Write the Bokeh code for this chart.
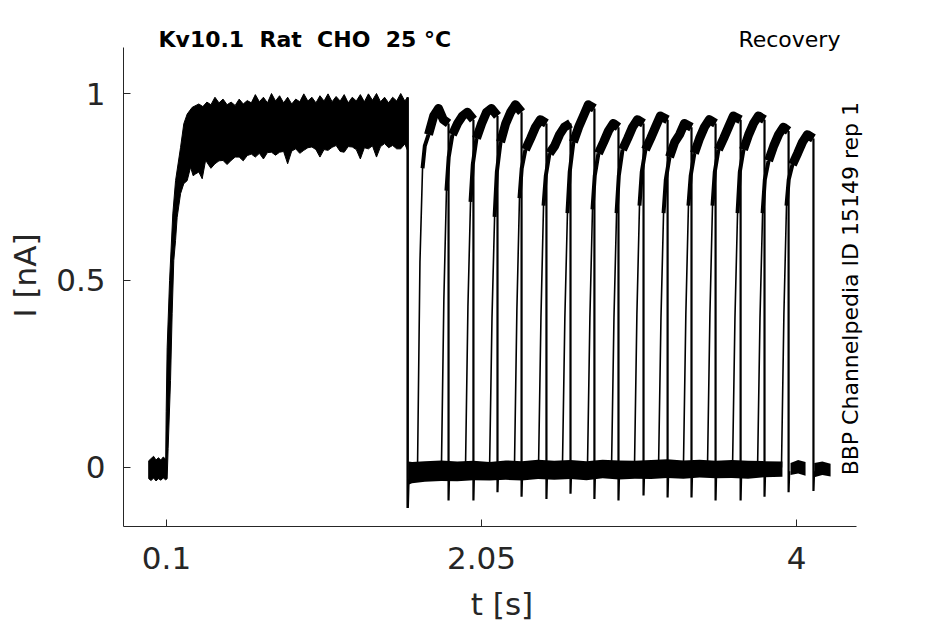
import math
from bokeh.plotting import figure
from bokeh.models import Label, FixedTicker, Range1d, CustomJSTickFormatter
from bokeh.embed import file_html
from bokeh.resources import INLINE

# ---------------- data ----------------
x_ticks = [0.1, 2.05, 4]
y_ticks = [0, 0.5, 1]

# first (conditioning) pulse, drawn as the envelope of the overlaid sweeps
p1_top_t = [-0.010, 0.005, 0.020, 0.035, 0.050, 0.065, 0.080, 0.095,
            0.098, 0.104, 0.119, 0.139, 0.156, 0.187, 0.207, 0.228, 0.259,
            0.300, 0.325, 0.350, 0.375, 0.400, 0.425, 0.450, 0.475, 0.500, 0.525,
            0.550, 0.575, 0.600, 0.625, 0.650, 0.675, 0.700, 0.725, 0.750, 0.775,
            0.800, 0.825, 0.850, 0.875, 0.900, 0.925, 0.950, 0.975, 1.000, 1.025,
            1.050, 1.075, 1.100, 1.125, 1.150, 1.175, 1.200, 1.225, 1.250, 1.275,
            1.300, 1.325, 1.350, 1.375, 1.400, 1.425, 1.450, 1.475, 1.500, 1.525,
            1.550, 1.575, 1.592]
p1_top_i = [0.018, 0.024, 0.030, 0.020, 0.026, 0.020, 0.028, 0.022,
            0.150, 0.320, 0.500, 0.678, 0.767, 0.856, 0.919, 0.945, 0.963,
            0.972, 0.965, 0.977, 0.970, 0.990, 0.975, 0.985, 0.970, 0.977, 0.968,
            0.985, 0.972, 0.981, 0.975, 0.997, 0.978, 0.990, 0.975, 1.000, 0.980,
            0.994, 0.975, 0.990, 0.972, 0.985, 0.978, 0.999, 0.980, 0.990, 0.975,
            0.994, 0.980, 0.999, 0.978, 0.992, 0.980, 0.997, 0.975, 0.990, 0.980,
            0.997, 0.978, 0.999, 0.982, 1.000, 0.978, 0.990, 0.975, 0.990, 0.980,
            1.000, 0.980, 0.990]
p1_bot_t = [-0.010, 0.005, 0.020, 0.035, 0.050, 0.065, 0.080, 0.095, 0.104,
            0.110, 0.125, 0.135, 0.145, 0.156, 0.166, 0.187, 0.207, 0.228, 0.249,
            0.265, 0.280, 0.300, 0.321, 0.342,
            0.350, 0.375, 0.400, 0.425, 0.450, 0.475, 0.500, 0.525,
            0.550, 0.575, 0.600, 0.625, 0.650, 0.675, 0.700, 0.725, 0.750, 0.775,
            0.800, 0.825, 0.850, 0.875, 0.900, 0.925, 0.950, 0.975, 1.000, 1.025,
            1.050, 1.075, 1.100, 1.125, 1.150, 1.175, 1.200, 1.225, 1.250, 1.275,
            1.300, 1.325, 1.350, 1.375, 1.400, 1.425, 1.450, 1.475, 1.500, 1.525,
            1.550, 1.575, 1.592]
p1_bot_i = [-0.030, -0.035, -0.028, -0.036, -0.030, -0.034, -0.028, -0.033, -0.030,
            0.050, 0.233, 0.411, 0.553, 0.607, 0.669, 0.732, 0.759, 0.767, 0.803,
            0.780, 0.785, 0.790, 0.772, 0.821,
            0.816, 0.800, 0.812, 0.820, 0.821, 0.810, 0.821, 0.830,
            0.830, 0.820, 0.834, 0.838, 0.830, 0.840, 0.825, 0.842, 0.843, 0.835,
            0.843, 0.845, 0.812, 0.846, 0.852, 0.840, 0.848, 0.855, 0.857, 0.850,
            0.830, 0.850, 0.848, 0.856, 0.861, 0.845, 0.843, 0.858, 0.857, 0.850,
            0.825, 0.855, 0.852, 0.860, 0.830, 0.858, 0.866, 0.855, 0.861, 0.852,
            0.852, 0.865, 0.848]
drop_t = [1.593, 1.593, 1.598]
drop_i = [0.990, -0.108, -0.030]

# baseline between pulses (overlaid sweeps)
bl_t = [1.597, 1.620, 1.700, 1.800, 1.900, 2.000, 2.100, 2.200, 2.300, 2.400,
        2.500, 2.600, 2.700, 2.800, 2.900, 3.000, 3.100, 3.200, 3.300, 3.400,
        3.500, 3.600, 3.700, 3.800, 3.913]
bl_hi = [0.016, 0.015, 0.017, 0.019, 0.016, 0.018, 0.015, 0.019, 0.017, 0.021,
         0.018, 0.020, 0.017, 0.021, 0.019, 0.018, 0.020, 0.022, 0.019, 0.021,
         0.018, 0.020, 0.018, 0.017, 0.016]
bl_lo = [-0.046, -0.042, -0.038, -0.036, -0.037, -0.034, -0.035, -0.033, -0.035, -0.031,
         -0.033, -0.031, -0.034, -0.029, -0.032, -0.030, -0.031, -0.028, -0.030, -0.027,
         -0.029, -0.028, -0.030, -0.026, -0.025]
tail1_t = [3.963, 4.010, 4.056]
tail1_hi = [0.012, 0.020, 0.015]
tail1_lo = [-0.020, -0.016, -0.022]
tail2_t = [4.110, 4.160, 4.211]
tail2_hi = [0.012, 0.016, 0.010]
tail2_lo = [-0.026, -0.020, -0.024]

# test pulses of the 16 sweeps
rise_t = [1.654, 1.802, 1.951, 2.100, 2.254, 2.403, 2.551, 2.706,
          2.855, 2.997, 3.146, 3.300, 3.449, 3.604, 3.759, 3.907]
end_t = [1.846, 2.000, 2.149, 2.298, 2.452, 2.601, 2.749, 2.898,
         3.053, 3.202, 3.350, 3.499, 3.654, 3.802, 3.951, 4.105]
pulse_offsets = [0.0, 0.015, 0.031, 0.045, 0.068, 0.100, 0.130, 0.160]
sweep_i = [
    [0, 0.55, 0.80, 0.86, 0.89, 0.94, 0.96, 0.93, 0.92],
    [0, 0.45, 0.74, 0.83, 0.89, 0.92, 0.94, 0.95, 0.93],
    [0, 0.43, 0.71, 0.81, 0.88, 0.92, 0.95, 0.96, 0.94],
    [0, 0.40, 0.67, 0.79, 0.87, 0.92, 0.95, 0.97, 0.95],
    [0, 0.42, 0.72, 0.80, 0.85, 0.88, 0.91, 0.93, 0.92],
    [0, 0.40, 0.70, 0.78, 0.84, 0.86, 0.89, 0.91, 0.92],
    [0, 0.40, 0.68, 0.79, 0.87, 0.91, 0.94, 0.97, 0.96],
    [0, 0.40, 0.69, 0.78, 0.84, 0.87, 0.90, 0.92, 0.91],
    [0, 0.40, 0.68, 0.78, 0.85, 0.88, 0.91, 0.93, 0.92],
    [0, 0.41, 0.70, 0.79, 0.85, 0.88, 0.91, 0.94, 0.93],
    [0, 0.40, 0.68, 0.77, 0.83, 0.87, 0.89, 0.92, 0.91],
    [0, 0.41, 0.70, 0.78, 0.84, 0.88, 0.91, 0.93, 0.92],
    [0, 0.41, 0.70, 0.79, 0.85, 0.88, 0.91, 0.94, 0.93],
    [0, 0.40, 0.68, 0.79, 0.85, 0.89, 0.92, 0.94, 0.93],
    [0, 0.40, 0.68, 0.77, 0.82, 0.86, 0.89, 0.91, 0.90],
    [0, 0.41, 0.70, 0.77, 0.81, 0.84, 0.87, 0.89, 0.88],
]
spike_i = [-0.088, -0.088, -0.066, -0.078, -0.084, -0.070, -0.084, -0.088,
           -0.075, -0.080, -0.080, -0.088, -0.088, -0.078, -0.066, -0.063]
after_spike_i = -0.010

# axis extents (axes are shorter than the frame so that the texts can sit inside it)
x_axis_span = (-0.166, 4.372)
y_axis_span = (-0.158, 1.123)

# ---------------- figure ----------------
FONT = "DejaVu Sans"
GREY = "#262626"

p = figure(width=940, height=624, output_backend="svg", toolbar_location=None,
           x_range=Range1d(-0.1662, 4.520), y_range=Range1d(-0.1578, 1.1845),
           min_border_left=123, min_border_right=60, min_border_top=24,
           min_border_bottom=98)
p.outline_line_color = None
p.xgrid.visible = False
p.ygrid.visible = False
p.background_fill_color = "white"
p.border_fill_color = "white"

fmt = CustomJSTickFormatter(code="return tick.toString();")
for ax, ticks, span in ((p.xaxis, x_ticks, x_axis_span), (p.yaxis, y_ticks, y_axis_span)):
    ax.ticker = FixedTicker(ticks=ticks)
    ax.formatter = fmt
    ax.bounds = span
    ax.axis_line_color = GREY
    ax.axis_line_width = 1
    ax.major_tick_line_color = GREY
    ax.major_tick_in = 7
    ax.major_tick_out = 0
    ax.minor_tick_line_color = None
    ax.major_label_text_font = FONT
    ax.major_label_text_font_size = "31px"
    ax.major_label_text_color = GREY
    ax.major_label_standoff = 18
    ax.axis_label_text_font = FONT
    ax.axis_label_text_font_size = "31px"
    ax.axis_label_text_font_style = "normal"
    ax.axis_label_text_color = GREY

p.yaxis.axis_label = "I [nA]"
p.yaxis.axis_label_standoff = 10
p.xaxis.axis_label = "t [s]"
p.xaxis.major_label_standoff = 20
p.xaxis.axis_label_standoff = 14

# traces
xs = p1_top_t + p1_bot_t[::-1]
ys = p1_top_i + p1_bot_i[::-1]
p.patch(xs, ys, fill_color="black", line_color="black", line_width=1)
p.line(drop_t, drop_i, line_color="black", line_width=2.5)
p.varea(x=bl_t, y1=bl_lo, y2=bl_hi, fill_color="black")
p.varea(x=tail1_t, y1=tail1_lo, y2=tail1_hi, fill_color="black")
p.varea(x=tail2_t, y1=tail2_lo, y2=tail2_hi, fill_color="black")

for r, e, vals, sp in zip(rise_t, end_t, sweep_i, spike_i):
    tt = [r + o for o in pulse_offsets] + [e]
    p.line(tt, vals, line_color="black", line_width=1.6)
    p.line(tt[2:5], vals[2:5], line_color="black", line_width=4)
    p.line(tt[4:], vals[4:], line_color="black", line_width=9, line_join="round")
    p.line([e, e, e + 0.004], [vals[-1], sp, after_spike_i],
           line_color="black", line_width=2.2)

# texts
p.add_layout(Label(x=0.0505, y=1.144, text="Kv10.1\u00a0 Rat\u00a0 CHO\u00a0 25 °C",
                   text_font=FONT, text_font_size="22px", text_font_style="bold",
                   text_color="black", text_align="left", text_baseline="alphabetic"))
p.add_layout(Label(x=4.272, y=1.144, text="Recovery",
                   text_font=FONT, text_font_size="22px", text_color="black",
                   text_align="right", text_baseline="alphabetic"))
p.add_layout(Label(x=4.336, y=-0.021, text="BBP Channelpedia ID 15149 rep 1",
                   angle=math.pi / 2, text_font=FONT, text_font_size="22px",
                   text_color="black", text_align="left", text_baseline="alphabetic"))

open("out.html", "w").write(file_html(p, INLINE))
